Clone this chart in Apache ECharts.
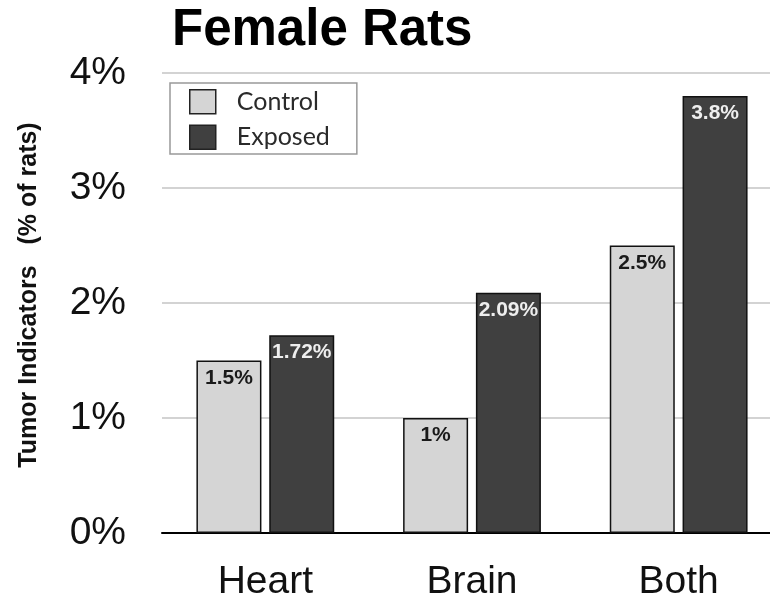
<!DOCTYPE html>
<html>
<head>
<meta charset="utf-8">
<script src="https://cdn.jsdelivr.net/npm/echarts@6/dist/echarts.min.js"></script>
<style>
  html, body { margin: 0; padding: 0; background: #fff; }
  #chart { width: 770px; height: 599px; }
</style>
</head>
<body>
<div id="chart"></div>
<script>
const categories = ['Heart', 'Brain', 'Both']
const controlValues = [1.5, 1, 2.5]
const exposedValues = [1.72, 2.09, 3.8]
const controlLabels = ['1.5%', '1%', '2.5%']
const exposedLabels = ['1.72%', '2.09%', '3.8%']

const chart = echarts.init(document.getElementById('chart'))

// bars share the same look, only fill and label colour differ
const barSeries = (name, values, labels, fill, textColor) => ({
  name: name,
  type: 'bar',
  data: values,
  barWidth: 65,
  barGap: '12%',
  itemStyle: { color: fill, borderColor: '#111', borderWidth: 1.5 },
  label: {
    show: true,
    position: 'insideTop',
    distance: 7,
    formatter: p => labels[p.dataIndex],
    color: textColor,
    fontFamily: 'Liberation Sans, Arial, sans-serif',
    fontWeight: 'bold',
    fontSize: 21
  }
})

chart.setOption({
  animation: false,
  title: {
    text: 'Female Rats',
    left: 167,
    top: 0,
    textStyle: {
      fontFamily: 'Liberation Sans, Arial, sans-serif',
      fontWeight: 'bold',
      fontSize: 51,
      color: '#000'
    }
  },
  legend: {
    orient: 'vertical',
    left: 170,
    top: 83,
    width: 186,
    padding: [6, 27, 4, 19],
    icon: 'rect',
    itemWidth: 26,
    itemHeight: 24,
    itemGap: 10,
    borderColor: '#999',
    borderWidth: 1.5,
    data: ['Control', 'Exposed'],
    itemStyle: { borderColor: '#222', borderWidth: 1.5 },
    textStyle: {
      fontFamily: 'Lato, sans-serif',
      fontSize: 25,
      color: '#2a2a2a',
      padding: [0, 0, 0, 16]
    }
  },
  grid: {
    left: 162,
    width: 620,
    top: 73,
    bottom: 66,
    outerBoundsMode: 'none'
  },
  xAxis: {
    type: 'category',
    data: categories,
    axisLine: { lineStyle: { color: '#000', width: 2 } },
    axisTick: { show: false },
    axisLabel: {
      color: '#111',
      fontFamily: 'Liberation Sans, Arial, sans-serif',
      fontSize: 39,
      margin: 30
    }
  },
  yAxis: {
    type: 'value',
    min: 0,
    max: 4,
    interval: 1,
    name: 'Tumor Indicators   (% of rats)',
    nameLocation: 'middle',
    nameGap: 120,
    nameTextStyle: {
      fontFamily: 'Liberation Sans, Arial, sans-serif',
      fontWeight: 'bold',
      fontSize: 25,
      color: '#111',
      padding: [0, 0, 0, 16]
    },
    axisLine: { show: false },
    axisTick: { show: false },
    axisLabel: {
      formatter: '{value}%',
      color: '#111',
      fontFamily: 'Liberation Sans, Arial, sans-serif',
      fontSize: 39,
      margin: 36
    },
    splitLine: { lineStyle: { color: '#c4c4c4', width: 1.5 } }
  },
  series: [
    barSeries('Control', controlValues, controlLabels, '#d5d5d5', '#1a1a1a'),
    barSeries('Exposed', exposedValues, exposedLabels, '#404040', '#eeeeee')
  ]
})
</script>
</body>
</html>
